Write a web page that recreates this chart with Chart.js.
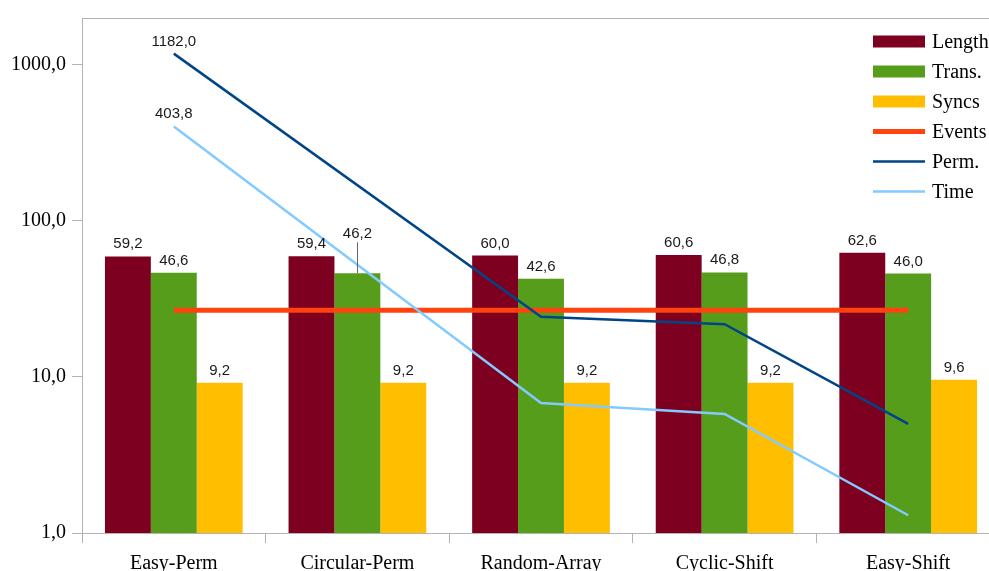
<!DOCTYPE html>
<html>
<head>
<meta charset="utf-8">
<script src="https://cdn.jsdelivr.net/npm/chart.js@4.4.1/dist/chart.umd.min.js"></script>
<style>
  html, body { margin: 0; padding: 0; background: #fff; overflow: hidden; }
  #wrap { width: 1000px; height: 571px; position: relative; }
</style>
</head>
<body>
<div id="wrap"><canvas id="chart"></canvas></div>
<script>
const categories = ["Easy-Perm", "Circular-Perm", "Random-Array", "Cyclic-Shift", "Easy-Shift"];
const lengthVals = [59.2, 59.4, 60.0, 60.6, 62.6];
const transVals = [46.6, 46.2, 42.6, 46.8, 46.0];
const syncsVals = [9.2, 9.2, 9.2, 9.2, 9.6];
const eventsVals = [26.8, 26.8, 26.8, 26.8, 26.8];
const permVals = [1182.0, null, 24.3, 21.8, 5.0];
const timeVals = [403.8, null, 6.8, 5.8, 1.3];
const yTicks = [1, 10, 100, 1000];

const fmt = (v) => v.toFixed(1).replace(".", ",");

Chart.defaults.font.family = "'Liberation Serif', serif";
Chart.defaults.font.size = 20;
Chart.defaults.color = "#000";

// value labels above bars / first line points
const valueLabels = {
  id: "valueLabels",
  afterDatasetsDraw(chart) {
    const ctx = chart.ctx;
    ctx.save();
    ctx.font = "15px 'Liberation Sans', sans-serif";
    ctx.fillStyle = "#1a1a1a";
    ctx.textAlign = "center";
    ctx.textBaseline = "alphabetic";
    chart.data.datasets.forEach((ds, i) => {
      if (!ds.labelPoints) return;
      const meta = chart.getDatasetMeta(i);
      meta.data.forEach((el, j) => {
        if (!ds.labelPoints.includes(j) || ds.data[j] == null) return;
        const lift = (ds.labelLift && ds.labelLift[j]) || 0;
        const y = el.y - 8 - lift;
        if (lift) {
          ctx.strokeStyle = "#666";
          ctx.lineWidth = 1;
          ctx.beginPath();
          ctx.moveTo(Math.round(el.x) + 0.5, y + 4);
          ctx.lineTo(Math.round(el.x) + 0.5, el.y);
          ctx.stroke();
        }
        ctx.fillText(fmt(ds.data[j]), el.x, y);
      });
    });
    ctx.restore();
  },
  afterDraw(chart) {
    const ctx = chart.ctx;
    const area = chart.chartArea;
    ctx.save();
    // top frame line
    ctx.strokeStyle = "#b3b3b3";
    ctx.lineWidth = 1;
    ctx.beginPath();
    ctx.moveTo(area.left, area.top + 0.5);
    ctx.lineTo(area.right, area.top + 0.5);
    ctx.stroke();
    // legend
    ctx.font = "20px 'Liberation Serif', serif";
    ctx.textAlign = "left";
    ctx.textBaseline = "middle";
    chart.data.datasets.forEach((ds, i) => {
      const cy = 41.5 + i * 30;
      ctx.fillStyle = ds.backgroundColor || ds.borderColor;
      if (ds.type === "line") {
        const h = ds.borderWidth;
        ctx.fillRect(873, cy - h / 2, 52, h);
      } else {
        ctx.fillRect(873, cy - 6, 52, 12);
      }
      ctx.fillStyle = "#000";
      ctx.fillText(ds.label, 932, cy + 1);
    });
    ctx.restore();
  },
};

new Chart(document.getElementById("chart"), {
  type: "bar",
  data: {
    labels: categories,
    datasets: [
      { label: "Length", data: lengthVals, backgroundColor: "#7e0021", order: 3, labelPoints: [0, 1, 2, 3, 4] },
      { label: "Trans.", data: transVals, backgroundColor: "#579d1c", order: 3, labelPoints: [0, 1, 2, 3, 4], labelLift: { 1: 27 } },
      { label: "Syncs", data: syncsVals, backgroundColor: "#ffbf00", order: 3, labelPoints: [0, 1, 2, 3, 4] },
      { label: "Events", type: "line", data: eventsVals, borderColor: "#ff420e", borderWidth: 5, pointRadius: 0, order: 2 },
      { label: "Perm.", type: "line", data: permVals, borderColor: "#004586", borderWidth: 2.5, pointRadius: 0, spanGaps: true, order: 1, labelPoints: [0] },
      { label: "Time", type: "line", data: timeVals, borderColor: "#83caff", borderWidth: 2.5, pointRadius: 0, spanGaps: true, order: 1, labelPoints: [0] },
    ],
  },
  options: {
    responsive: true,
    maintainAspectRatio: false,
    animation: false,
    layout: { padding: { top: 16, right: 0, left: 0, bottom: 0 } },
    datasets: { bar: { categoryPercentage: 0.75, barPercentage: 1.0 } },
    plugins: { legend: { display: false }, tooltip: { enabled: false } },
    scales: {
      x: {
        offset: true,
        grid: { offset: true, drawOnChartArea: false, drawTicks: true, tickLength: 10, color: "#b3b3b3" },
        border: { display: true, color: "#b3b3b3" },
        ticks: { padding: 9, maxRotation: 0 },
        afterFit: (scale) => { scale.height = 38; },
      },
      y: {
        type: "logarithmic",
        min: 1,
        max: 2000,
        grid: { drawOnChartArea: false, drawTicks: true, tickLength: 10, color: "#b3b3b3" },
        border: { display: true, color: "#b3b3b3" },
        ticks: { padding: 6, callback: (v) => fmt(v) },
        afterBuildTicks: (scale) => { scale.ticks = yTicks.map((v) => ({ value: v })); },
        afterFit: (scale) => { scale.width = 82; },
      },
    },
  },
  plugins: [valueLabels],
});
</script>
</body>
</html>
